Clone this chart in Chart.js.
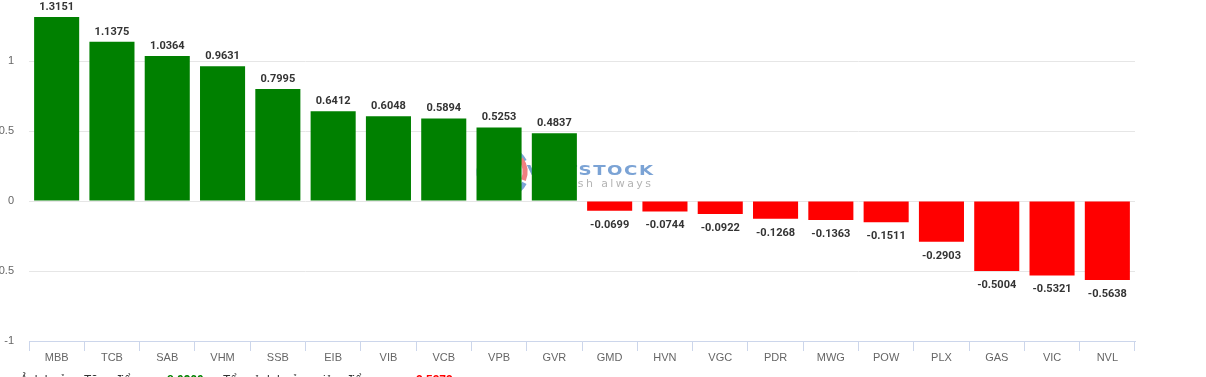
<!DOCTYPE html>
<html><head><meta charset="utf-8">
<script src="https://cdn.jsdelivr.net/npm/chart.js@4"></script>
<style>
html,body{margin:0;padding:0;background:#fff;overflow:hidden}
#wrap{position:relative;width:1206px;height:377px}
</style>
</head><body>
<div id="wrap"><canvas id="c"></canvas></div>
<script>
const categories = ['MBB','TCB','SAB','VHM','SSB','EIB','VIB','VCB','VPB','GVR','GMD','HVN','VGC','PDR','MWG','POW','PLX','GAS','VIC','NVL'];
const values = [1.3151,1.1375,1.0364,0.9631,0.7995,0.6412,0.6048,0.5894,0.5253,0.4837,-0.0699,-0.0744,-0.0922,-0.1268,-0.1363,-0.1511,-0.2903,-0.5004,-0.5321,-0.5638];
const yTicks = [-1,-0.5,0,0.5,1];
const yMin = -1;
const yMax = 1.4286;
const upLabel = 'Ảnh hưởng Tăng điểm:';
const downLabel = 'Tổng ảnh hưởng giảm điểm:';
const totalUp = values.filter(v => v > 0).reduce((a, b) => a + b, 0);
const totalDown = values.filter(v => v < 0).reduce((a, b) => a + b, 0);

const GREEN = '#008000', RED = '#ff0000';

function spacedRight(ctx, text, right, y, sp, sx) {
  let x = right;
  for (let i = text.length - 1; i >= 0; i--) {
    const w = ctx.measureText(text[i]).width * sx;
    x -= w;
    ctx.save();
    ctx.translate(x, y);
    ctx.scale(sx, 1);
    ctx.fillText(text[i], 0, 0);
    ctx.restore();
    x -= sp;
  }
}

const watermark = {
  id: 'watermark',
  beforeDatasetsDraw(chart) {
    const ctx = chart.ctx;
    ctx.save();
    ctx.lineWidth = 5;
    ctx.strokeStyle = '#7ba3d5';
    ctx.beginPath();
    ctx.arc(503, 172, 24, 0.15 * Math.PI, 1.85 * Math.PI);
    ctx.stroke();
    ctx.strokeStyle = '#f08080';
    ctx.beginPath();
    ctx.arc(503, 172, 22, -0.2 * Math.PI, 0.12 * Math.PI);
    ctx.stroke();
    ctx.textAlign = 'left';
    ctx.textBaseline = 'alphabetic';
    ctx.fillStyle = '#7ba3d5';
    ctx.font = 'bold 14px "DejaVu Sans"';
    spacedRight(ctx, 'VIETSTOCK', 653, 175, 1.5, 1.3);
    ctx.fillStyle = '#b4b4b4';
    ctx.font = '11px "DejaVu Sans"';
    spacedRight(ctx, 'Fresh always', 651, 187, 2.4, 1);
    ctx.restore();
  }
};

const dataLabels = {
  id: 'dataLabels',
  afterDatasetsDraw(chart) {
    const ctx = chart.ctx;
    const meta = chart.getDatasetMeta(0);
    ctx.save();
    ctx.font = 'bold 11px Roboto';
    ctx.fillStyle = '#333333';
    ctx.textAlign = 'center';
    ctx.textBaseline = 'alphabetic';
    meta.data.forEach((el, i) => {
      const v = values[i];
      const txt = v.toFixed(4);
      if (v >= 0) ctx.fillText(txt, el.x, el.y - 7);
      else ctx.fillText(txt, el.x, el.y + 17);
    });
    ctx.restore();
  }
};

const footer = {
  id: 'footer',
  afterDraw(chart) {
    const ctx = chart.ctx;
    ctx.save();
    ctx.textBaseline = 'alphabetic';
    ctx.textAlign = 'left';
    const y = 384;
    ctx.font = '12px "Liberation Sans"';
    ctx.fillStyle = '#333333';
    ctx.fillText(upLabel, 20, y);
    ctx.font = 'bold 12px "Liberation Sans"';
    ctx.fillStyle = GREEN;
    ctx.fillText(totalUp.toFixed(4), 167, y);
    ctx.font = '12px "Liberation Sans"';
    ctx.fillStyle = '#333333';
    ctx.fillText(downLabel, 223, y);
    ctx.font = 'bold 12px "Liberation Sans"';
    ctx.fillStyle = RED;
    ctx.fillText(totalDown.toFixed(4), 412, y);
    ctx.restore();
  }
};

new Chart(document.getElementById('c'), {
  type: 'bar',
  data: {
    labels: categories,
    datasets: [{
      data: values,
      backgroundColor: ctx => (values[ctx.dataIndex] >= 0 ? GREEN : RED),
      borderWidth: 0,
      categoryPercentage: 1,
      barPercentage: 0.815
    }]
  },
  options: {
    responsive: true,
    maintainAspectRatio: false,
    animation: false,
    layout: { padding: { left: 0, right: 71, top: 1, bottom: 0 } },
    plugins: { legend: { display: false }, tooltip: { enabled: false } },
    scales: {
      x: {
        offset: true,
        afterFit(s) { s.height = 36; s.paddingLeft = 0; s.paddingRight = 0; },
        grid: { offset: true, drawOnChartArea: false, drawTicks: true, tickLength: 10, color: '#ccd6eb', lineWidth: 1 },
        border: { display: true, color: '#ccd6eb', width: 1 },
        ticks: { color: '#666666', font: { family: '"Liberation Sans"', size: 11 }, padding: 0, maxRotation: 0, autoSkip: false }
      },
      y: {
        min: yMin,
        max: yMax,
        afterFit(s) { s.width = 29; s.paddingTop = 0; s.paddingBottom = 0; },
        afterBuildTicks(s) { s.ticks = yTicks.map(v => ({ value: v })); },
        grid: { color: '#e6e6e6', lineWidth: 1, drawTicks: false },
        border: { display: false },
        ticks: {
          color: '#666666',
          font: { family: '"Liberation Sans"', size: 11 },
          padding: 15,
          callback: v => String(v)
        }
      }
    }
  },
  plugins: [watermark, dataLabels, footer]
});
</script>
</body></html>
